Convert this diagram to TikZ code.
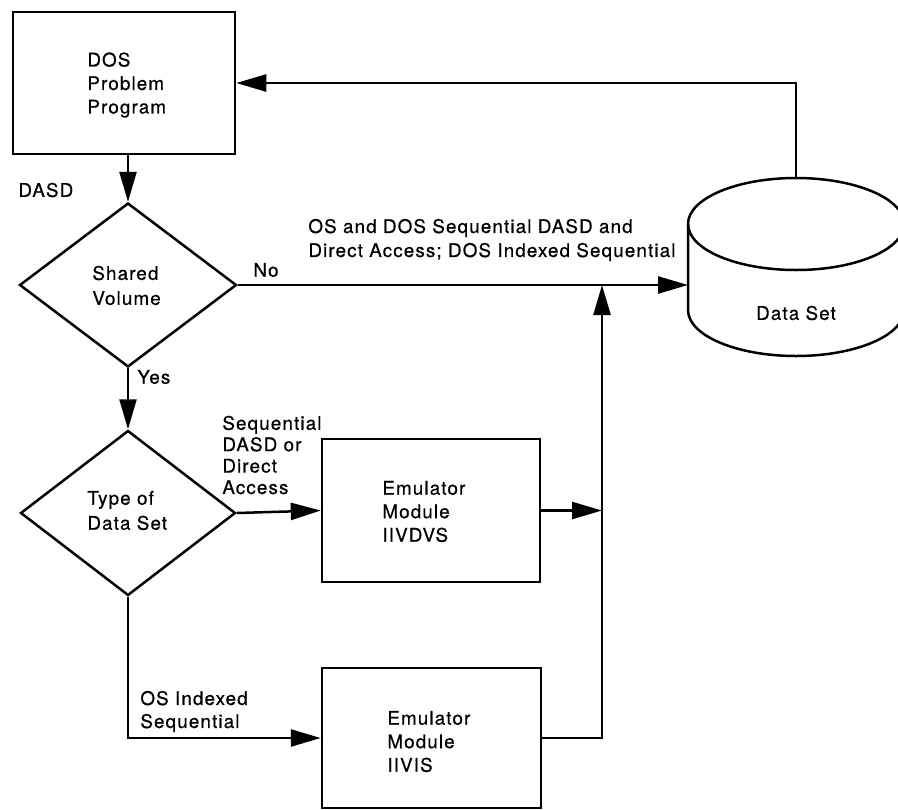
\documentclass[tikz,border=0pt]{standalone}
\usepackage{fontspec}
\setmainfont{TeX Gyre Heros}[LetterSpace=6, FakeBold=0.6]
\usetikzlibrary{shapes.geometric,arrows.meta}
\tikzset{
  line/.style={line width=1.25pt, line join=miter},
  arr/.style={line, -{Triangle[length=15pt,width=8.5pt]}},
  procbox/.style={line, draw, rectangle, inner sep=0pt},
  decision/.style={line, draw, diamond, inner sep=0pt},
  lbl/.style={inner sep=0pt, align=left, anchor=west},
}
\begin{document}
\begin{tikzpicture}[x=0.5pt, y=-0.5pt, font=\fontsize{9.4}{11.75}\selectfont]
\useasboundingbox (0,0) rectangle (898,809);
\clip (0,0) rectangle (898,809);

% process boxes
\node[procbox, minimum width=111pt, minimum height=71pt] (dos) at (124,83) {};
\node[procbox, minimum width=109pt, minimum height=71.5pt] (vdvs) at (431,510.5) {};
\node[procbox, minimum width=109.5pt, minimum height=70pt] (vis) at (431.5,738) {};
\node[lbl] (dosT) at (87,85) {DOS\\Problem\\Program};
\node[lbl] (vdvsT) at (382,511.5) {Emulator\\Module\\IIVDVS};
\node[lbl] (visT) at (387,741.5) {Emulator\\Module\\IIVIS};

% decisions
\node[decision, minimum width=108.5pt, minimum height=82pt] (d1) at (128,285) {};
\node[decision, minimum width=107.5pt, minimum height=82.5pt] (d2) at (128,513) {};
\node[lbl, font=\fontsize{9.4}{12.5}\selectfont] (d1T) at (92,285.5) {Shared\\Volume};
\node[lbl, font=\fontsize{9.4}{12.5}\selectfont] (d2T) at (87,510.5) {Type of\\Data Set};

% data set cylinder
\draw[line] (796,224) ellipse [x radius=108, y radius=46];
\draw[line] (688,224) -- (688,310) arc [start angle=180, end angle=0, x radius=108, y radius=46] -- (904,224);
\node[inner sep=0pt] (ds) at (796,313) {Data Set};
\coordinate (dsL) at (688,285);
\coordinate (dsT) at (796,178);
\coordinate (j) at (602,285);

% connectors
\draw[arr] (d1.north |- dos.south) -- (d1.north);
\draw[arr] (d1.east) -- (dsL);
\draw[arr] (d1.south) -- (d2.north);
\draw[arr] (d2.east) -- (vdvs.west);
\draw[arr] (d2.south) |- (vis.west);
\draw[arr] (vdvs.east) -- (vdvs.east -| j);
\draw[arr] (vis.east) -| (j);
\draw[arr] (dsT) |- (dos.east);

% labels
\node[lbl] (lDASD) at (18,190) {DASD};
\node[lbl] (lNo) at (253,270) {No};
\node[lbl, font=\fontsize{9.4}{12}\selectfont] (lOS) at (308,240)
  {OS and DOS Sequential DASD and\\Direct Access; DOS Indexed Sequential};
\node[lbl] (lYes) at (137,377) {Yes};
\node[lbl, font=\fontsize{9.4}{10.7}\selectfont] (lSeq) at (222,455)
  {Sequential\\DASD or\\Direct\\Access};
\node[lbl, font=\fontsize{9.4}{11.5}\selectfont] (lISAM) at (140,711.5)
  {OS Indexed\\Sequential};
\end{tikzpicture}
\end{document}
